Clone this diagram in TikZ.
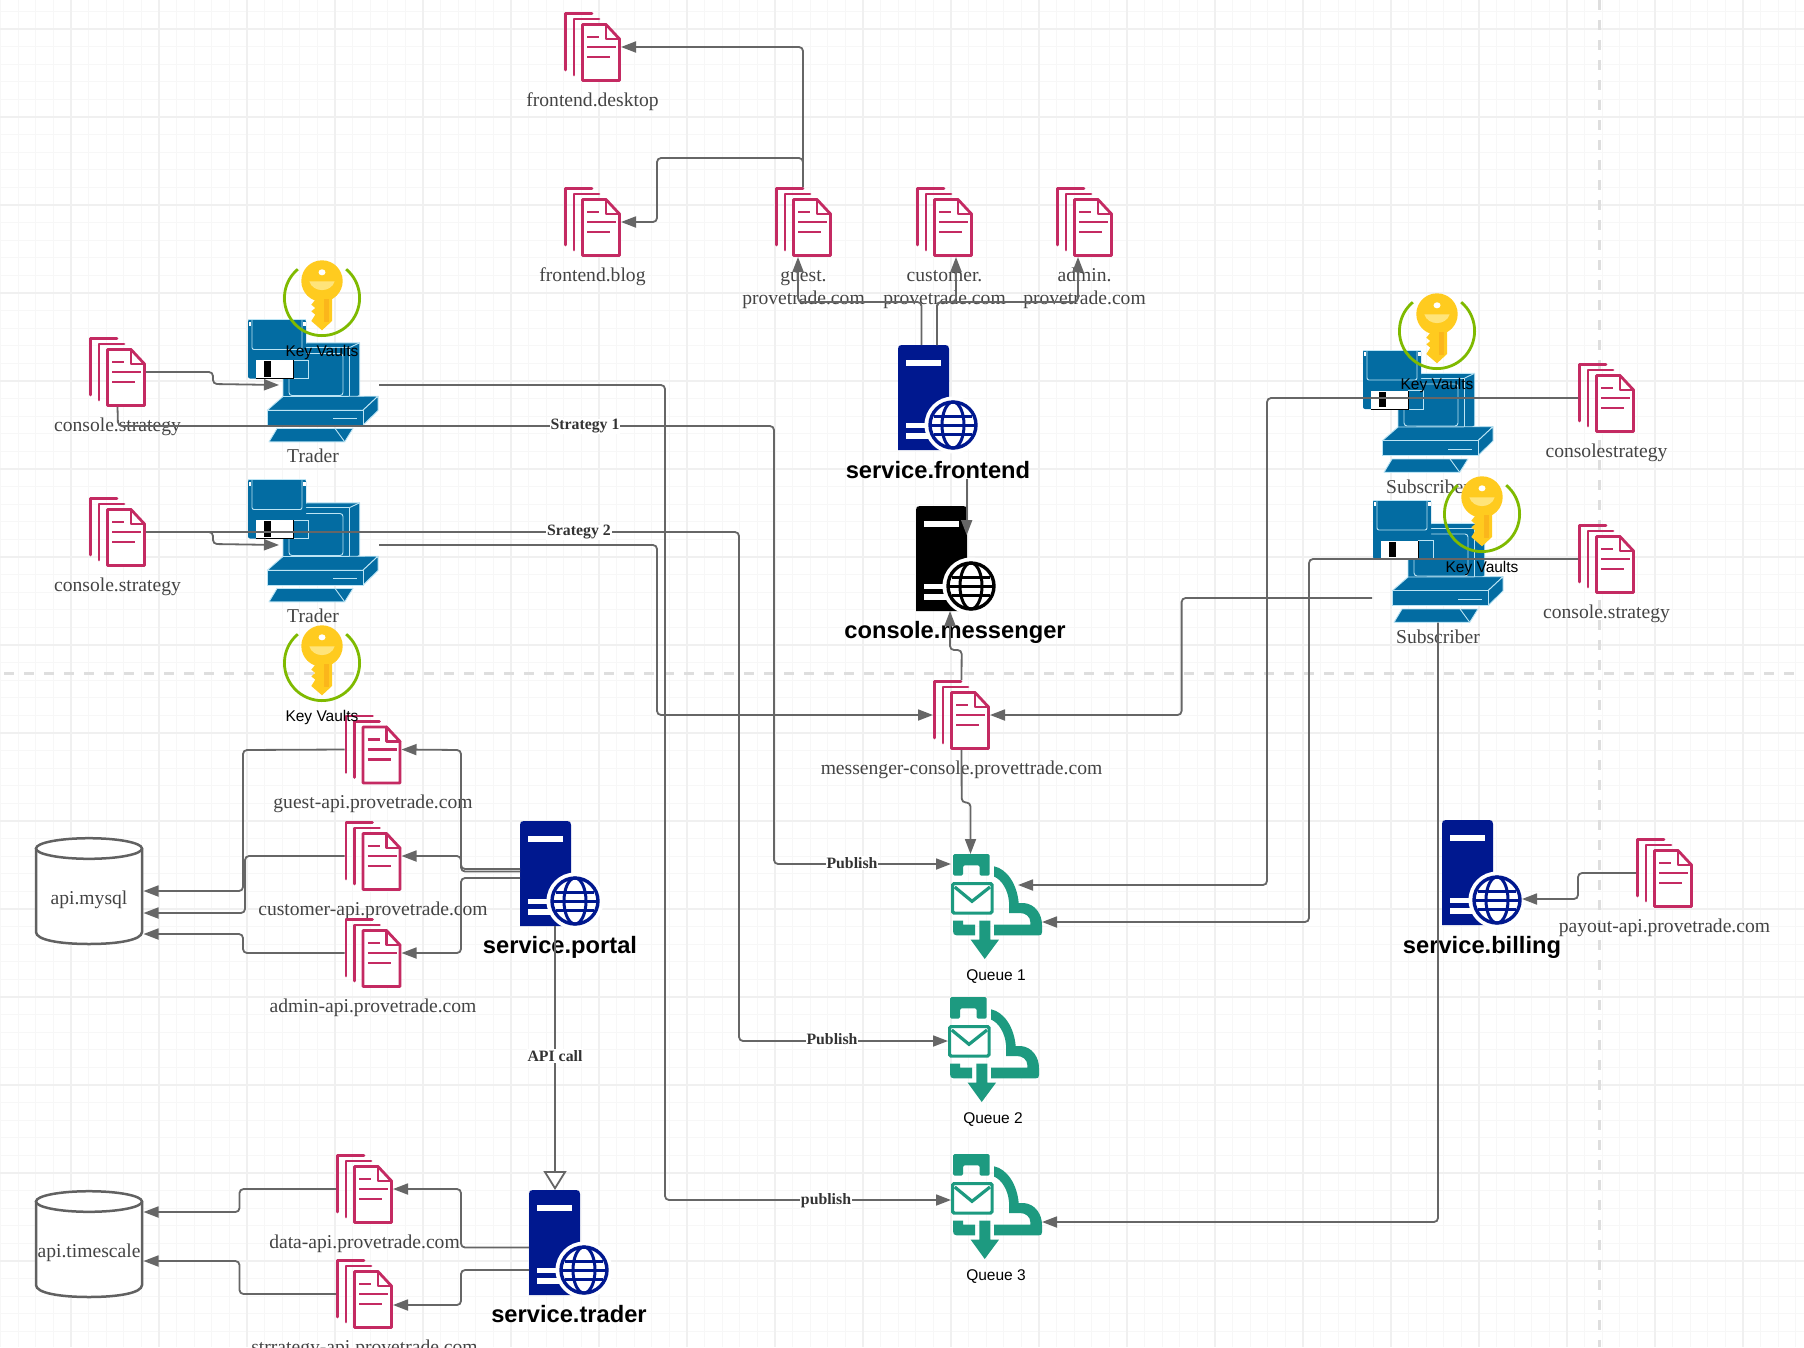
\documentclass[tikz,border=0pt]{standalone}
\usepackage{fontspec}
\setmainfont{Liberation Serif}
\setsansfont{Liberation Sans}
\usetikzlibrary{arrows.meta}
\definecolor{docpink}{HTML}{C42A62}
\definecolor{navy}{HTML}{00188F}
\definecolor{pcblue}{HTML}{036CA2}
\definecolor{pcline}{HTML}{BCE4F4}
\definecolor{queuegreen}{HTML}{1D9A80}
\definecolor{ringgreen}{HTML}{7FBA00}
\definecolor{keyyellow}{HTML}{FFCB1F}
\definecolor{keystripe}{HTML}{FBB61B}
\definecolor{keylight}{HTML}{FFE47A}
\definecolor{wire}{HTML}{666666}
\definecolor{labelgray}{HTML}{444444}
\tikzset{
	gridminor/.style={line width=1pt, color=black!3},
	gridmajor/.style={line width=1.3pt, color=black!6},
	pagedash/.style={line width=3pt, color=black!13, dash pattern=on 10pt off 10pt},
	anchorbox/.style={inner sep=0pt, outer sep=0pt},
	docline/.style={line width=2.8pt, color=docpink, line cap=round, line join=round},
	doclabel/.style={font=\fontsize{19.6}{23}\selectfont, text=labelgray, align=center, inner sep=0pt, anchor=north},
	pcedge/.style={line width=0.9pt, color=pcline, fill=pcblue, line join=round},
	servertitle/.style={font=\sffamily\bfseries\fontsize{23.7}{24}\selectfont, inner sep=0pt},
	smalltitle/.style={font=\sffamily\fontsize{15.5}{18}\selectfont, inner sep=0pt},
	conn/.style={line width=1.8pt, color=wire, rounded corners=4pt, -{Triangle[length=15pt,width=11pt]}},
	hollowconn/.style={line width=1.8pt, color=wire, -{Triangle[open,fill=white,length=19pt,width=23pt]}},
	edgelabel/.style={font=\bfseries\fontsize{15.8}{18}\selectfont, text=black!80, fill=white, inner sep=1pt},
}
\def\docstack(#1)(#2,#3)#4{
	\begin{scope}[shift={(#2,#3)}]
		\node[anchorbox, minimum width=57pt, minimum height=70pt] (#1) at (28.5,35) {};
		\draw[docline] (1.5,58) -- (1.5,1.5) -- (28,1.5);
		\draw[docline] (10,63) -- (10,7) -- (35,7);
		\draw[docline, fill=white] (18.5,12.5) -- (42,12.5) -- (55.5,27) -- (55.5,68.5) -- (18.5,68.5) -- cycle;
		\draw[docline] (42,12.5) -- (42,27) -- (55.5,27);
		\draw[docline, line cap=butt] (23,25) -- (35,25);
		\draw[docline, line cap=butt] (23,35) -- (52,35);
		\draw[docline, line cap=butt] (23,45) -- (46,45);
		\node[doclabel] (#1-label) at (28.5,77.8) {\strut #4};
	\end{scope}}
\def\server[#1](#2)(#3,#4)(#5,#6)#7{
	\begin{scope}[shift={(#3,#4)}]
		\node[anchorbox, minimum width=80pt, minimum height=105pt] (#2) at (40,52.5) {};
		\fill[#1] (0,105) -- (0,4) .. controls (0,1) and (1,0) .. (4,0) -- (47,0) .. controls (50,0) and (51,1) .. (51,4) -- (51,105) -- cycle;
		\fill[white] (7.7,15) rectangle (43,20.7);
		\fill[white] (7.7,78) rectangle (43,83.3);
		\fill[white] (7.7,88.3) rectangle (43,94);
		\fill[white] (55,80) circle (28.5);
		\draw[#1, line width=3.4pt] (55,80) circle (23);
		\draw[#1, line width=3pt] (55,80) ellipse (11 and 23);
		\draw[#1, line width=3pt] (36,71) -- (74,71);
		\draw[#1, line width=3pt] (36,89) -- (74,89);
		\draw[#1, line width=3pt] (32,80) -- (78,80);
	\end{scope}
	\node[servertitle, text=black] (#2-label) at (#5,#6) {#7};}
\def\computer(#1)(#2,#3)#4{
	\begin{scope}[shift={(#2,#3)}]
		\node[anchorbox, minimum width=100pt, minimum height=114pt] (#1) at (81,66.5) {};
		\draw[pcedge] (60,24.3) -- (111.7,24.3) -- (111.7,76.7) -- (101.7,83.3) -- (35,83.3) -- (35,29) -- cycle;
		\draw[pcedge] (35,29) -- (101.7,29) -- (101.7,83.3);
		\draw[pcedge] (101.7,29) -- (111.7,24.3);
		\draw[pcedge, rounded corners=3pt] (41,35) rectangle (95,77);
		\draw[pcedge] (19.3,91.7) -- (35,78) -- (130,77.7) -- (115,91.7) -- cycle;
		\draw[pcedge] (115,91.7) -- (130,77.7) -- (130,92) -- (115,106.7) -- cycle;
		\draw[pcedge] (19.3,91.7) rectangle (115,106.7);
		\draw[pcedge] (85,100) -- (109,100);
		\draw[pcedge] (21,123.3) -- (96.7,123.3) -- (105,110) -- (29,110) -- cycle;
		\draw[pcedge] (96.7,123.3) -- (87,110);
		% floppy
		\fill[pcblue, rounded corners=2pt] (0,1) rectangle (58,60);
		\draw[line width=0.9pt, color=pcline, rounded corners=2pt] (4,1) -- (4,31) -- (54,31) -- (54,1);
		\draw[line width=0.9pt, color=pcline] (45,41.7) -- (60,41.7) -- (60,60) -- (45,60);
		\draw[line width=0.9pt, color=pcline] (0,1) -- (58,1);
		\fill[white] (0.5,3) rectangle (3,7);
		\fill[white] (55,3) rectangle (57.5,7);
		\draw[line width=0.8pt, fill=white] (8.3,41.7) -- (8.3,60) -- (45,60) -- (45,41.7);
		\fill[white] (8.3,41.7) rectangle (45,59.6);
		\fill[black] (16,42.7) rectangle (23,58);
		\node[doclabel] (#1-label) at (65,128) {\strut #4};
	\end{scope}}
\def\keyvault(#1)(#2,#3){
	\begin{scope}[shift={(#2,#3)}]
		\node[anchorbox, minimum width=78pt, minimum height=78pt] (#1) at (0,0) {};
		\draw[ringgreen, line width=2.8pt] ({37.6*cos(-50)},{37.6*sin(-50)}) arc (-50:230:37.6);
		\fill[keyyellow] (0,-17) circle (20.7);
		\fill[keyyellow] (-6.7,-8) -- (-6.7,1.7) -- (-10.7,6.7) -- (-6.7,10) -- (-10.7,13.3) -- (-6.7,16.7) -- (-10.7,23) -- (0,32.3) -- (10,23) -- (10,-8) -- cycle;
		\fill[keystripe] (2,1) rectangle (6.7,24);
		\fill[keylight] (-12.7,-16.7) .. controls (-9,-5) and (9,-5) .. (12.7,-16.7) -- cycle;
		\fill[white] (0,-25.7) ellipse (3.5 and 3);
		\node[smalltitle] (#1-label) at (0,54.7) {Key Vaults};
	\end{scope}}
\def\queue(#1)(#2,#3)#4{
	\begin{scope}[shift={(#2,#3)}]
		\node[anchorbox, minimum width=91pt, minimum height=105pt] (#1) at (45.5,52.5) {};
		\fill[queuegreen, rounded corners=1.5pt] (2,21.7) -- (2,0) -- (38.7,0) -- (38.7,21.7) -- (28.7,21.7) -- (28.7,11.3) -- (12,11.3) -- (12,21.7) -- cycle;
		\draw[queuegreen, line width=3.2pt, rounded corners=1.5pt, fill=white] (1.6,29.6) rectangle (41.1,59.1);
		\draw[queuegreen, line width=3.2pt] (3.7,33) -- (21,47.3) -- (39,33);
		\fill[queuegreen] (2,66.7) -- (12,66.7) -- (12,70.7) -- (24,70.7) -- (24,81.3) -- (5.5,81.3) .. controls (3,81.3) and (2,80) .. (2,77) -- cycle;
		\fill[queuegreen] (28.3,66.7) -- (39.3,66.7) -- (39.3,85.7) -- (48,85.7) -- (33.7,105) -- (19.7,85.7) -- (28.3,85.7) -- cycle;
		\fill[queuegreen] (43,12.3) .. controls (56,15) and (66,30) .. (67.7,49) -- (73,49) .. controls (84,50) and (91,60) .. (91,71) -- (91,78) .. controls (91,80.5) and (90,81.3) .. (88,81.3) -- (43,81.3) -- (43,70.7) -- (79.3,70.7) -- (79.3,68) .. controls (79.3,63) and (75,59) .. (69,59) -- (58,59) -- (58,48) .. controls (57,36) and (51,26) .. (43,22.5) -- cycle;
		\node[smalltitle] (#1-label) at (45,122.5) {#4};
	\end{scope}}
\def\database(#1)(#2,#3)#4{
	\begin{scope}[shift={(#2,#3)}]
		\node[anchorbox, minimum width=107.5pt, minimum height=106pt] (#1) at (53.75,53) {};
		\draw[line width=2.5pt, color=black!62, fill=white] (0,10.5) -- (0,94) .. controls (0,102) and (24,106) .. (53,106) .. controls (82,106) and (106,102) .. (106,94) -- (106,10.5);
		\draw[line width=2.5pt, color=black!62, fill=white] (53,10.5) ellipse (53 and 10.3);
		\node[doclabel] (#1-label) at (53,50.5) {\strut #4};
	\end{scope}}

\begin{document}
\begin{tikzpicture}[x=1pt,y=-1pt]
			%%%%% START %%%%%
			\useasboundingbox (0,0) rectangle (1804,1347);
			\fill[white] (0,0) rectangle (1804,1347);
			
			\foreach \i [evaluate=\i as \gx using 0.6+17.6*\i] in {0,...,102}
				\draw[gridminor] (\gx,0) -- (\gx,1347);
			\foreach \i [evaluate=\i as \gy using 11.4+17.6*\i] in {0,...,76}
				\draw[gridminor] (0,\gy) -- (1804,\gy);
			\foreach \i [evaluate=\i as \gx using 71+88*\i] in {0,...,19}
				\draw[gridmajor] (\gx,0) -- (\gx,1347);
			\foreach \i [evaluate=\i as \gy using 29+88*\i] in {0,...,15}
				\draw[gridmajor] (0,\gy) -- (1804,\gy);
			
			\draw[pagedash] (4,673) -- (1796,673);
			\draw[pagedash] (1599,0) -- (1599,1347);
			
			\computer(trader1)(248,318.5){Trader}
			\computer(trader2)(248,478.5){Trader}
			\computer(subscriber1)(1363,349){Subscriber}
			\computer(subscriber2)(1373,499){Subscriber}
			\coordinate (subscriber2side) at (1372,598);
			
			\docstack(desktop)(564,12){frontend.desktop}
			\docstack(blog)(564,187){frontend.blog}
			\docstack(guestweb)(775,187){guest.\\\strut provetrade.com}
			\docstack(customerweb)(916,187){customer.\\\strut provetrade.com}
			\docstack(adminweb)(1056,187){admin.\\\strut provetrade.com}
			\docstack(strategya)(89,337){console.strategy}
			\docstack(strategyb)(89,497){console.strategy}
			\docstack(strategyc)(1578,363){consolestrategy}
			\docstack(strategyd)(1578,524){console.strategy}
			\docstack(messengerdoc)(933,680){messenger-console.provettrade.com}
			\docstack(guestapi)(344.5,714.5){guest-api.provetrade.com}
			\docstack(customerapi)(344.5,821){customer-api.provetrade.com}
			\docstack(adminapi)(344.5,918){admin-api.provetrade.com}
			\docstack(dataapi)(336,1154){data-api.provetrade.com}
			\docstack(strategyapi)(336,1259){strrategy-api.provetrade.com}
			\docstack(payoutapi)(1636,838){payout-api.provetrade.com}
			
			\server[navy](frontend)(898,345)(938,470){service.frontend}
			\server[black](messenger)(916,506)(955,632){console.messenger}
			\server[navy](portal)(520,821)(560,947){service.portal}
			\server[navy](trader)(529,1190)(569,1314){service.trader}
			\server[navy](billing)(1442,820)(1482,947){service.billing}
			
			\keyvault(vaulta)(322,298)
			\keyvault(vaultb)(322,663)
			\keyvault(vaultc)(1437,331)
			\keyvault(vaultd)(1482,514)
			
			\queue(queue1)(951,854){Queue 1}
			\queue(queue2)(948,997){Queue 2}
			\queue(queue3)(951,1154){Queue 3}
			\coordinate (queue1notch) at (1018,885);
			\coordinate (queue1side) at (1042,922);
			\coordinate (queue3side) at (1042,1222);
			
			\database(mysql)(36,838){api.mysql}
			\database(timescale)(36,1191){api.timescale}
			
			% frontend
			\draw[conn] (guestweb.north -| 803,0) -- (803,47) -- (desktop.east);
			\draw[conn] (guestweb.north -| 803,0) -- (803,158) -- (657,158) -- (657,222) -- (blog.east);
			\draw[conn] (921.5,0 |- frontend.north) -- (921.5,302) -- (798,302) -- (798,0 |- guestweb.south);
			\draw[conn] (937,0 |- frontend.north) -- (937,302) -- (956,302) -- (956,0 |- customerweb.south);
			\draw[conn] (937,0 |- frontend.north) -- (937,302) -- (1078,302) -- (1078,0 |- adminweb.south);
			\draw[conn] (966.7,0 |- frontend-label.south) -- (966.7,535);
			
			% traders
			\draw[conn] (strategya.east) -- (213,372) -- (213,384) -- (trader1.west);
			\draw[conn] (strategyb.east) -- (213,532) -- (213,544) -- (trader2.west);
			\draw[conn] (trader1.east) -- (665,385) -- (665,1200) -- (queue3.west |- 0,1200);
			\draw[conn] (strategya.south) -- (118,426) -- (774,426) -- (774,864) -- (queue1.west |- 0,864);
			\draw[conn] (strategyb.east) -- (739,532) -- (739,1041) -- (queue2.west |- 0,1041);
			\draw[conn] (trader2.east) -- (657,545) -- (657,715) -- (messengerdoc.west);
			
			% messenger
			\draw[conn] (messengerdoc.north) -- (961.7,650) -- (950,650) -- (950,0 |- messenger.south);
			\draw[conn] (messengerdoc.south) -- (961.7,802.5) -- (970.5,802.5) -- (970.5,0 |- queue1.north);
			
			% subscribers
			\draw[conn] (subscriber2side) -- (1181.6,598) -- (1181.6,715) -- (messengerdoc.east);
			\draw[conn] (subscriber2.south) ++(-16,0) -- (1438,1222) -- (queue3side);
			\draw[conn] (strategyc.west) -- (1267,398) -- (1267,885) -- (queue1notch);
			\draw[conn] (strategyd.west) -- (1309,559) -- (1309,922) -- (queue1side);
			
			% portal
			\draw[conn] (portal.west |- 0,869) -- (461,869) -- (461,750) -- (guestapi.east);
			\draw[conn] (portal.west |- 0,871.5) -- (461,871.5) -- (461,856) -- (customerapi.east);
			\draw[conn] (portal.west |- 0,878) -- (461,878) -- (461,953) -- (adminapi.east);
			\draw[conn] (guestapi.west) -- (243,750) -- (243,891) -- (mysql.east |- 0,891);
			\draw[conn] (customerapi.west) -- (245,856) -- (245,913) -- (mysql.east |- 0,913);
			\draw[conn] (adminapi.west) -- (243,953) -- (243,934) -- (mysql.east |- 0,934);
			
			% trader service
			\draw[conn] (trader.west |- 0,1247.5) -- (461,1247.5) -- (461,1189) -- (dataapi.east);
			\draw[conn] (trader.west |- 0,1270) -- (461,1270) -- (461,1305) -- (strategyapi.east |- 0,1305);
			\draw[conn] (dataapi.west) -- (239.5,1189) -- (239.5,1212) -- (timescale.east |- 0,1212);
			\draw[conn] (strategyapi.west) -- (239.5,1294) -- (239.5,1261) -- (timescale.east |- 0,1261);
			\draw[hollowconn] (555,0 |- portal.south) -- (555,0 |- trader.north);
			
			% billing
			\draw[conn] (payoutapi.west) -- (1578,873) -- (1578,899) -- (billing.east |- 0,899);
			
			\node[edgelabel] (strategyoneflag) at (585,426.5) {Strategy 1};
			\node[edgelabel] (strategytwoflag) at (579,532.5) {Srategy 2};
			\node[edgelabel] (publishone) at (852,863) {Publish};
			\node[edgelabel] (publishtwo) at (832,1039) {Publish};
			\node[edgelabel] (publishthree) at (826,1200.5) {publish};
			\node[edgelabel] (apicall) at (555,1056) {API call};
			
			%%%%% END %%%%%
\end{tikzpicture}
\end{document}
